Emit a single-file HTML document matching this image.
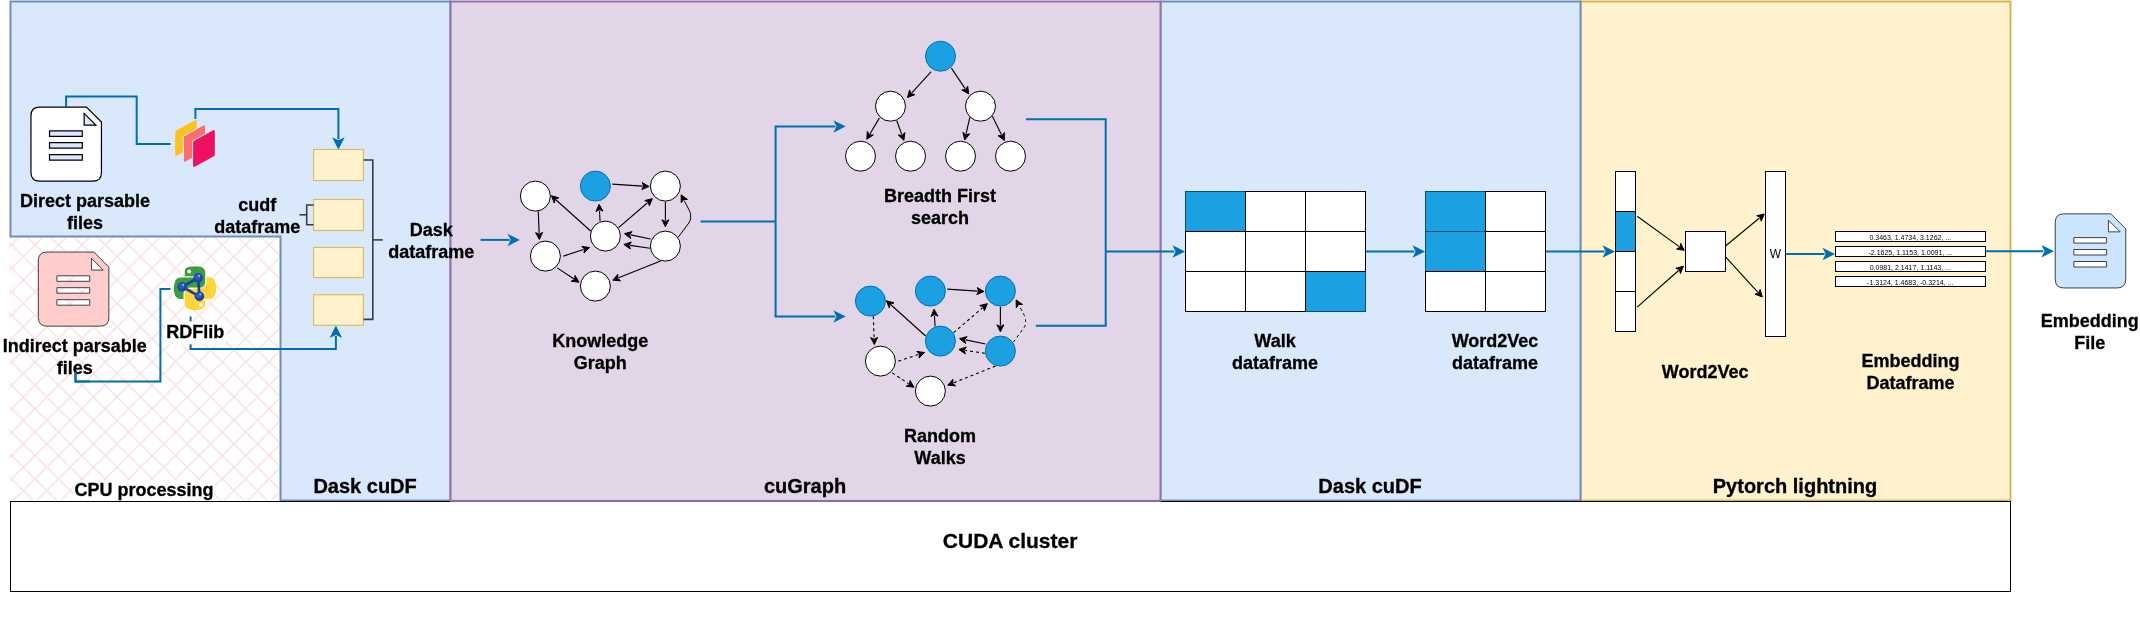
<!DOCTYPE html>
<html lang="en">
<head>
<meta charset="utf-8">
<title>GPU RDF2Vec pipeline</title>
<style>
html,body{margin:0;padding:0;background:#fff;}
body{width:2140px;height:630px;overflow:hidden;}
svg{display:block;font-family:"Liberation Sans",sans-serif;fill:#000;will-change:transform;}
</style>
</head>
<body>
<svg width="2140" height="630" viewBox="0 0 2140 630">
<defs>
<pattern id="hatch" x="11.7" y="408.7" width="23.4" height="23.4" patternUnits="userSpaceOnUse">
<path d="M-1,-1 L24.4,24.4 M-1,24.4 L24.4,-1" stroke="#fbdfe1" stroke-width="1.5" fill="none"/>
</pattern>
</defs>
<rect x="1580.5" y="1.5" width="430" height="499" fill="#fff2cc" stroke="#d6b656" stroke-width="2"/>
<rect x="1160.5" y="1.5" width="420" height="499" fill="#dae8fc" stroke="#6c8ebf" stroke-width="2"/>
<rect x="9.3" y="236" width="270" height="264.5" fill="url(#hatch)"/>
<path d="M10.5,1.5 H450.5 V500.5 H280.5 V236.5 H10.5 Z" fill="#dae8fc" stroke="#6c8ebf" stroke-width="2"/>
<rect x="73.5" y="480" width="141" height="20.8" fill="#fff"/>
<rect x="10.5" y="501.5" width="2000" height="90" fill="#fff" stroke="#000" stroke-width="1"/>
<rect x="450.5" y="1.5" width="710" height="499.4" fill="#e1d5e7" stroke="#9673a6" stroke-width="2"/>
<path d="M66.1,106.4 L66.1,96.4 L136.7,96.4 L136.7,143.9 L170.6,143.9" fill="none" stroke="#006EAF" stroke-width="2" stroke-miterlimit="10"/>
<polygon points="338.4,147.46 334.4,139.46 338.4,141.46 342.4,139.46" fill="#006EAF" stroke="#006EAF" stroke-width="2" stroke-miterlimit="10"/>
<path d="M195.4,119 L195.4,109.1 L338.4,109.1 L338.4,139.23" fill="none" stroke="#006EAF" stroke-width="2" stroke-miterlimit="10"/>
<path d="M75.5,371 L75.5,381.5 L160.4,381.5 L160.4,289 L170.5,289" fill="none" stroke="#006EAF" stroke-width="2" stroke-miterlimit="10"/>
<polygon points="335.9,327.74 339.9,335.74 335.9,333.74 331.9,335.74" fill="#006EAF" stroke="#006EAF" stroke-width="2" stroke-miterlimit="10"/>
<path d="M190.6,316.5 L190.6,349.1 L335.9,349.1 L335.9,335.97" fill="none" stroke="#006EAF" stroke-width="2" stroke-miterlimit="10"/>
<rect x="165.6" y="321.4" width="59.4" height="22.9" fill="#fff"/>
<path transform="translate(30.95,107.05)" d="M8.6,0 H55.5 L70.5,15 V65.5 Q70.5,74.1 61.9,74.1 H8.6 Q0,74.1 0,65.5 V8.6 Q0,0 8.6,0 Z M53.2,6.3 V18 H64.9 Z M18.57,23.75 H51.35 V29.25 H18.57 Z M18.57,35.65 H51.35 V41.15 H18.57 Z M18.57,47.65 H51.35 V53.15 H18.57 Z " fill="#fff" fill-rule="evenodd" stroke="#000" stroke-width="1.2" stroke-miterlimit="10"/>
<path transform="translate(38.35,252.05)" d="M8.6,0 H55.5 L70.5,15 V65.5 Q70.5,74.1 61.9,74.1 H8.6 Q0,74.1 0,65.5 V8.6 Q0,0 8.6,0 Z M53.2,6.3 V18 H64.9 Z M18.57,23.75 H51.35 V29.25 H18.57 Z M18.57,35.65 H51.35 V41.15 H18.57 Z M18.57,47.65 H51.35 V53.15 H18.57 Z " fill="#ffcccc" fill-rule="evenodd" stroke="#36393d" stroke-width="0.95" stroke-miterlimit="10"/>
<path transform="translate(2055.25,213.85)" d="M8.6,0 H55.5 L70.5,15 V65.5 Q70.5,74.1 61.9,74.1 H8.6 Q0,74.1 0,65.5 V8.6 Q0,0 8.6,0 Z M53.2,6.3 V18 H64.9 Z M18.57,23.75 H51.35 V29.25 H18.57 Z M18.57,35.65 H51.35 V41.15 H18.57 Z M18.57,47.65 H51.35 V53.15 H18.57 Z " fill="#cce5ff" fill-rule="evenodd" stroke="#36393d" stroke-width="0.95" stroke-miterlimit="10"/>
<g>
<path d="M176.3,131.7 L195.6,121.1 V144.2 L176.3,154.8 Z" fill="#ffc11e" stroke="#ffc11e" stroke-width="2.2" stroke-linejoin="round"/>
<path d="M185,137.25 L203.9,126.45 V149.75 L185,160.55 Z" fill="none" stroke="#dae8fc" stroke-width="4.2" stroke-linejoin="round"/>
<path d="M185,137.25 L203.9,126.45 V149.75 L185,160.55 Z" fill="#fc6e6b" stroke="#fc6e6b" stroke-width="2.2" stroke-linejoin="round"/>
<path d="M194.2,142 L213.7,131.2 V155 L194.2,165.8 Z" fill="none" stroke="#dae8fc" stroke-width="4.2" stroke-linejoin="round"/>
<path d="M194.2,142 L213.7,131.2 V155 L194.2,165.8 Z" fill="#ef1161" stroke="#ef1161" stroke-width="2.2" stroke-linejoin="round"/>
</g>
<g transform="translate(173.8,266.4) scale(0.382,0.391)">
<path d="M28.7,25.25 V15 C28.7,7.3 30.8,3.1 42.1,1.1 C50,-0.3 60,-0.3 68.9,1.1 C76.2,2.3 82.3,7.8 82.3,15 V40.6 C82.3,48 76.3,54.2 68.9,54.2 H42.1 C33,54.2 25.4,62 25.4,70.9 V83.1 H16.1 C8.3,83.1 3.8,77.4 1.9,69.5 C-0.7,58.8 -0.6,52.5 1.9,42.3 C4,33.4 10.8,28.7 18.6,28.7 H55.5 V25.25 Z" fill="#3f9b3f"/>
<path d="M85.6,28.7 V40.6 C85.6,49.8 77.8,57.6 68.9,57.6 H42.1 C34.8,57.6 28.7,63.9 28.7,71.2 V96.7 C28.7,104 35,108.3 42.1,110.4 C50.6,112.9 58.7,113.3 68.9,110.4 C75.6,108.4 82.3,104.5 82.3,96.7 V86.5 H55.5 V83.1 H95.7 C103.5,83.1 106.4,77.7 109.1,69.5 C111.9,61.1 111.8,53 109.1,42.3 C107.2,34.5 103.5,28.7 95.7,28.7 Z" fill="#ffd43b"/>
<circle cx="40.4" cy="13.3" r="5.1" fill="#fff"/>
<circle cx="70.6" cy="98.4" r="5.1" fill="#fff"/>
</g>
<g stroke="#1c3f94" stroke-width="2.7" fill="none" stroke-linecap="round"><path d="M182.2,286.8 L198.2,277.8 L199.4,296.4 Z"/></g>
<circle cx="182.2" cy="286.8" r="4.8" fill="#1d46a0"/>
<circle cx="181.6" cy="285.9" r="2.6" fill="#2f5cc0"/>
<circle cx="183.2" cy="284.8" r="1.1" fill="#9db6ee"/>
<circle cx="198.2" cy="277.8" r="4.8" fill="#1d46a0"/>
<circle cx="197.6" cy="276.9" r="2.6" fill="#2f5cc0"/>
<circle cx="199.2" cy="275.8" r="1.1" fill="#9db6ee"/>
<circle cx="199.4" cy="296.4" r="4.8" fill="#1d46a0"/>
<circle cx="198.8" cy="295.5" r="2.6" fill="#2f5cc0"/>
<circle cx="200.4" cy="294.4" r="1.1" fill="#9db6ee"/>
<rect x="313.6" y="149.5" width="49.8" height="31" fill="#fff2cc" stroke="#d9bc61" stroke-width="1.15"/>
<rect x="313.6" y="199.5" width="49.8" height="31" fill="#fff2cc" stroke="#d9bc61" stroke-width="1.15"/>
<rect x="313.6" y="247.5" width="49.8" height="30" fill="#fff2cc" stroke="#d9bc61" stroke-width="1.15"/>
<rect x="313.6" y="294.75" width="49.8" height="30.5" fill="#fff2cc" stroke="#d9bc61" stroke-width="1.15"/>
<path d="M363.5,160 L372.8,160 L372.8,319.4 L363.5,319.4" fill="none" stroke="#3a3d42" stroke-width="1.6" stroke-miterlimit="10"/>
<path d="M372.8,239.9 L382.8,239.9" fill="none" stroke="#3a3d42" stroke-width="1.6" stroke-miterlimit="10"/>
<path d="M313.5,205 L306.7,205 L306.7,224.7 L313.5,224.7" fill="none" stroke="#3a3d42" stroke-width="1.6" stroke-miterlimit="10"/>
<path d="M299.5,214.8 L306.7,214.8" fill="none" stroke="#3a3d42" stroke-width="1.6" stroke-miterlimit="10"/>
<polygon points="517.76,239.9 509.76,243.9 511.76,239.9 509.76,235.9" fill="#006EAF" stroke="#006EAF" stroke-width="2" stroke-miterlimit="10"/>
<path d="M480.6,239.9 L509.53,239.9" fill="none" stroke="#006EAF" stroke-width="2" stroke-miterlimit="10"/>
<polygon points="539.36,239.48 535.6,232.62 539.16,234.24 542.59,232.36" fill="#000" stroke="#000" stroke-width="1" stroke-miterlimit="10"/>
<path d="M538.3,211.2 L539.12,233.12" fill="none" stroke="#000" stroke-width="1.12" stroke-miterlimit="10"/>
<polygon points="551.43,195.75 558.98,197.83 555.33,199.26 554.29,203.03" fill="#000" stroke="#000" stroke-width="1" stroke-miterlimit="10"/>
<path d="M590.6,231 L556.16,200.01" fill="none" stroke="#000" stroke-width="1.12" stroke-miterlimit="10"/>
<polygon points="599.07,204.32 602.99,211.09 599.39,209.56 596,211.52" fill="#000" stroke="#000" stroke-width="1" stroke-miterlimit="10"/>
<path d="M600.1,221.2 L599.46,210.67" fill="none" stroke="#000" stroke-width="1.12" stroke-miterlimit="10"/>
<polygon points="589.54,247.55 583.97,253.05 584.55,249.18 581.8,246.4" fill="#000" stroke="#000" stroke-width="1" stroke-miterlimit="10"/>
<path d="M563.4,256.1 L583.49,249.53" fill="none" stroke="#000" stroke-width="1.12" stroke-miterlimit="10"/>
<polygon points="578.97,282.19 571.19,281.27 574.58,279.31 575.03,275.42" fill="#000" stroke="#000" stroke-width="1" stroke-miterlimit="10"/>
<path d="M557.2,267.9 L573.64,278.69" fill="none" stroke="#000" stroke-width="1.12" stroke-miterlimit="10"/>
<polygon points="612.74,280.18 617.93,274.33 617.61,278.23 620.54,280.83" fill="#000" stroke="#000" stroke-width="1" stroke-miterlimit="10"/>
<path d="M660.6,261 L618.65,277.81" fill="none" stroke="#000" stroke-width="1.12" stroke-miterlimit="10"/>
<polygon points="624.5,233.63 632.06,231.61 629.64,234.68 630.65,238.47" fill="#000" stroke="#000" stroke-width="1" stroke-miterlimit="10"/>
<path d="M650.6,239 L630.73,234.91" fill="none" stroke="#000" stroke-width="1.12" stroke-miterlimit="10"/>
<polygon points="623.91,244.46 631.34,242.02 629.1,245.23 630.32,248.95" fill="#000" stroke="#000" stroke-width="1" stroke-miterlimit="10"/>
<path d="M649.9,248.3 L630.21,245.39" fill="none" stroke="#000" stroke-width="1.12" stroke-miterlimit="10"/>
<polygon points="652.35,198.63 649.33,205.85 648.37,202.06 644.76,200.55" fill="#000" stroke="#000" stroke-width="1" stroke-miterlimit="10"/>
<path d="M618.6,227.7 L647.53,202.79" fill="none" stroke="#000" stroke-width="1.12" stroke-miterlimit="10"/>
<polygon points="648.98,186.53 641.77,189.56 643.75,186.18 642.23,182.57" fill="#000" stroke="#000" stroke-width="1" stroke-miterlimit="10"/>
<path d="M612.3,184.1 L642.63,186.11" fill="none" stroke="#000" stroke-width="1.12" stroke-miterlimit="10"/>
<polygon points="665.4,226.78 661.9,219.78 665.4,221.53 668.9,219.78" fill="#000" stroke="#000" stroke-width="1" stroke-miterlimit="10"/>
<path d="M665.4,201.7 L665.4,220.41" fill="none" stroke="#000" stroke-width="1.12" stroke-miterlimit="10"/>
<polygon points="681.12,194.89 687.49,199.44 683.58,199.53 681.3,202.71" fill="#000" stroke="#000" stroke-width="1" stroke-miterlimit="10"/>
<path d="M678.3,237.2 L688.8,223 Q690.6,220.6 690.6,217.6 L690.6,214.8 Q690.6,212.8 689.2,210.15 L684.1,200.52" fill="none" stroke="#000" stroke-width="1"/>
<circle cx="535.4" cy="196.1" r="15" fill="#fff" stroke="#000" stroke-width="1"/>
<circle cx="595.4" cy="186.1" r="15" fill="#1ba1e2" stroke="#006EAF" stroke-width="1"/>
<circle cx="665.4" cy="186.1" r="15" fill="#fff" stroke="#000" stroke-width="1"/>
<circle cx="545.4" cy="256.1" r="15" fill="#fff" stroke="#000" stroke-width="1"/>
<circle cx="605.4" cy="236.1" r="15" fill="#fff" stroke="#000" stroke-width="1"/>
<circle cx="665.4" cy="246.1" r="15" fill="#fff" stroke="#000" stroke-width="1"/>
<circle cx="595.4" cy="286.1" r="15" fill="#fff" stroke="#000" stroke-width="1"/>
<polygon points="874.36,344.48 870.6,337.62 874.16,339.24 877.59,337.36" fill="#000" stroke="#000" stroke-width="1" stroke-miterlimit="10"/>
<path d="M873.3,316.2 L874.12,338.12" fill="none" stroke="#000" stroke-width="1.12" stroke-miterlimit="10" stroke-dasharray="3 3"/>
<polygon points="886.43,300.75 893.98,302.83 890.33,304.26 889.29,308.03" fill="#000" stroke="#000" stroke-width="1" stroke-miterlimit="10"/>
<path d="M925.6,336 L891.16,305.01" fill="none" stroke="#000" stroke-width="1.12" stroke-miterlimit="10"/>
<polygon points="934.07,309.32 937.99,316.09 934.39,314.56 931,316.52" fill="#000" stroke="#000" stroke-width="1" stroke-miterlimit="10"/>
<path d="M935.1,326.2 L934.46,315.67" fill="none" stroke="#000" stroke-width="1.12" stroke-miterlimit="10"/>
<polygon points="924.54,352.55 918.97,358.05 919.55,354.18 916.8,351.4" fill="#000" stroke="#000" stroke-width="1" stroke-miterlimit="10"/>
<path d="M898.4,361.1 L918.49,354.53" fill="none" stroke="#000" stroke-width="1.12" stroke-miterlimit="10" stroke-dasharray="3 3"/>
<polygon points="913.97,387.19 906.19,386.27 909.58,384.31 910.03,380.42" fill="#000" stroke="#000" stroke-width="1" stroke-miterlimit="10"/>
<path d="M892.2,372.9 L908.64,383.69" fill="none" stroke="#000" stroke-width="1.12" stroke-miterlimit="10" stroke-dasharray="3 3"/>
<polygon points="947.74,385.18 952.93,379.33 952.61,383.23 955.54,385.83" fill="#000" stroke="#000" stroke-width="1" stroke-miterlimit="10"/>
<path d="M995.6,366 L953.65,382.81" fill="none" stroke="#000" stroke-width="1.12" stroke-miterlimit="10" stroke-dasharray="3 3"/>
<polygon points="959.5,338.63 967.06,336.61 964.64,339.68 965.65,343.47" fill="#000" stroke="#000" stroke-width="1" stroke-miterlimit="10"/>
<path d="M985.6,344 L965.73,339.91" fill="none" stroke="#000" stroke-width="1.12" stroke-miterlimit="10"/>
<polygon points="958.91,349.46 966.34,347.02 964.1,350.23 965.32,353.95" fill="#000" stroke="#000" stroke-width="1" stroke-miterlimit="10"/>
<path d="M984.9,353.3 L965.21,350.39" fill="none" stroke="#000" stroke-width="1.12" stroke-miterlimit="10" stroke-dasharray="3 3"/>
<polygon points="987.35,303.63 984.33,310.85 983.37,307.06 979.76,305.55" fill="#000" stroke="#000" stroke-width="1" stroke-miterlimit="10"/>
<path d="M953.6,332.7 L982.53,307.79" fill="none" stroke="#000" stroke-width="1.12" stroke-miterlimit="10" stroke-dasharray="3 3"/>
<polygon points="983.98,291.53 976.77,294.56 978.75,291.18 977.23,287.57" fill="#000" stroke="#000" stroke-width="1" stroke-miterlimit="10"/>
<path d="M947.3,289.1 L977.63,291.11" fill="none" stroke="#000" stroke-width="1.12" stroke-miterlimit="10"/>
<polygon points="1000.4,331.78 996.9,324.78 1000.4,326.53 1003.9,324.78" fill="#000" stroke="#000" stroke-width="1" stroke-miterlimit="10"/>
<path d="M1000.4,306.7 L1000.4,325.41" fill="none" stroke="#000" stroke-width="1.12" stroke-miterlimit="10"/>
<polygon points="1016.12,299.89 1022.49,304.44 1018.58,304.53 1016.3,307.71" fill="#000" stroke="#000" stroke-width="1" stroke-miterlimit="10"/>
<path d="M1013.3,342.2 L1023.8,328 Q1025.6,325.6 1025.6,322.6 L1025.6,319.8 Q1025.6,317.8 1024.2,315.15 L1019.1,305.52" fill="none" stroke="#000" stroke-width="1" stroke-dasharray="3 3"/>
<circle cx="870.4" cy="301.1" r="15" fill="#1ba1e2" stroke="#006EAF" stroke-width="1"/>
<circle cx="930.4" cy="291.1" r="15" fill="#1ba1e2" stroke="#006EAF" stroke-width="1"/>
<circle cx="1000.4" cy="291.1" r="15" fill="#1ba1e2" stroke="#006EAF" stroke-width="1"/>
<circle cx="880.4" cy="361.1" r="15" fill="#fff" stroke="#000" stroke-width="1"/>
<circle cx="940.4" cy="341.1" r="15" fill="#1ba1e2" stroke="#006EAF" stroke-width="1"/>
<circle cx="1000.4" cy="351.1" r="15" fill="#1ba1e2" stroke="#006EAF" stroke-width="1"/>
<circle cx="930.4" cy="391.1" r="15" fill="#fff" stroke="#000" stroke-width="1"/>
<polygon points="907.46,97.48 909.63,89.96 911.01,93.62 914.77,94.7" fill="#000" stroke="#000" stroke-width="1" stroke-miterlimit="10"/>
<path d="M931.2,71.7 L911.77,92.79" fill="none" stroke="#000" stroke-width="1.12" stroke-miterlimit="10"/>
<polygon points="968.68,93.87 961.87,90.01 965.75,89.51 967.69,86.11" fill="#000" stroke="#000" stroke-width="1" stroke-miterlimit="10"/>
<path d="M951.4,68.1 L965.13,88.58" fill="none" stroke="#000" stroke-width="1.12" stroke-miterlimit="10"/>
<polygon points="866.77,139.24 867.33,131.43 869.45,134.72 873.35,135" fill="#000" stroke="#000" stroke-width="1" stroke-miterlimit="10"/>
<path d="M879.3,118.1 L870.02,133.76" fill="none" stroke="#000" stroke-width="1.12" stroke-miterlimit="10"/>
<polygon points="903.92,140.35 898.24,134.97 902.12,135.42 904.82,132.57" fill="#000" stroke="#000" stroke-width="1" stroke-miterlimit="10"/>
<path d="M896.7,120.5 L901.74,134.36" fill="none" stroke="#000" stroke-width="1.12" stroke-miterlimit="10"/>
<polygon points="964.74,139.91 962.86,132.31 965.9,134.79 969.69,133.85" fill="#000" stroke="#000" stroke-width="1" stroke-miterlimit="10"/>
<path d="M969.8,117.4 L966.14,133.7" fill="none" stroke="#000" stroke-width="1.12" stroke-miterlimit="10"/>
<polygon points="1004.31,140.4 998.08,135.66 1001.99,135.69 1004.36,132.57" fill="#000" stroke="#000" stroke-width="1" stroke-miterlimit="10"/>
<path d="M992.4,116.2 L1001.49,134.68" fill="none" stroke="#000" stroke-width="1.12" stroke-miterlimit="10"/>
<circle cx="940.5" cy="56.2" r="15" fill="#1ba1e2" stroke="#006EAF" stroke-width="1"/>
<circle cx="890.5" cy="106.2" r="15" fill="#fff" stroke="#000" stroke-width="1"/>
<circle cx="980.5" cy="106.2" r="15" fill="#fff" stroke="#000" stroke-width="1"/>
<circle cx="860.5" cy="156.2" r="15" fill="#fff" stroke="#000" stroke-width="1"/>
<circle cx="910.5" cy="156.2" r="15" fill="#fff" stroke="#000" stroke-width="1"/>
<circle cx="960.5" cy="156.2" r="15" fill="#fff" stroke="#000" stroke-width="1"/>
<circle cx="1010.5" cy="156.2" r="15" fill="#fff" stroke="#000" stroke-width="1"/>
<path d="M700.6,221.4 L775.6,221.4" fill="none" stroke="#006EAF" stroke-width="2" stroke-miterlimit="10"/>
<polygon points="843.56,126.4 835.56,130.4 837.56,126.4 835.56,122.4" fill="#006EAF" stroke="#006EAF" stroke-width="2" stroke-miterlimit="10"/>
<path d="M775.6,221.4 L775.6,126.4 L835.33,126.4" fill="none" stroke="#006EAF" stroke-width="2" stroke-miterlimit="10"/>
<polygon points="843.56,316.4 835.56,320.4 837.56,316.4 835.56,312.4" fill="#006EAF" stroke="#006EAF" stroke-width="2" stroke-miterlimit="10"/>
<path d="M775.6,221.4 L775.6,316.4 L835.33,316.4" fill="none" stroke="#006EAF" stroke-width="2" stroke-miterlimit="10"/>
<path d="M1026,119.2 L1105.7,119.2 L1105.7,251.5" fill="none" stroke="#006EAF" stroke-width="2" stroke-miterlimit="10"/>
<path d="M1035.8,325.8 L1105.7,325.8 L1105.7,251.5" fill="none" stroke="#006EAF" stroke-width="2" stroke-miterlimit="10"/>
<polygon points="1182.76,251.5 1174.76,255.5 1176.76,251.5 1174.76,247.5" fill="#006EAF" stroke="#006EAF" stroke-width="2" stroke-miterlimit="10"/>
<path d="M1105.7,251.5 L1174.53,251.5" fill="none" stroke="#006EAF" stroke-width="2" stroke-miterlimit="10"/>
<polygon points="1422.76,251.5 1414.76,255.5 1416.76,251.5 1414.76,247.5" fill="#006EAF" stroke="#006EAF" stroke-width="2" stroke-miterlimit="10"/>
<path d="M1366,251.5 L1414.53,251.5" fill="none" stroke="#006EAF" stroke-width="2" stroke-miterlimit="10"/>
<polygon points="1612.76,251.5 1604.76,255.5 1606.76,251.5 1604.76,247.5" fill="#006EAF" stroke="#006EAF" stroke-width="2" stroke-miterlimit="10"/>
<path d="M1546,251.5 L1604.53,251.5" fill="none" stroke="#006EAF" stroke-width="2" stroke-miterlimit="10"/>
<rect x="1185.5" y="191.5" width="60" height="40" fill="#1ba1e2" stroke="#04507a" stroke-width="1"/>
<rect x="1305.5" y="271.5" width="60" height="40" fill="#1ba1e2" stroke="#04507a" stroke-width="1"/>
<rect x="1245.5" y="191.5" width="60" height="40" fill="#fff" stroke="#000" stroke-width="1"/>
<rect x="1305.5" y="191.5" width="60" height="40" fill="#fff" stroke="#000" stroke-width="1"/>
<rect x="1185.5" y="231.5" width="60" height="40" fill="#fff" stroke="#000" stroke-width="1"/>
<rect x="1245.5" y="231.5" width="60" height="40" fill="#fff" stroke="#000" stroke-width="1"/>
<rect x="1305.5" y="231.5" width="60" height="40" fill="#fff" stroke="#000" stroke-width="1"/>
<rect x="1185.5" y="271.5" width="60" height="40" fill="#fff" stroke="#000" stroke-width="1"/>
<rect x="1245.5" y="271.5" width="60" height="40" fill="#fff" stroke="#000" stroke-width="1"/>
<rect x="1425.5" y="191.5" width="60" height="40" fill="#1ba1e2" stroke="#04507a" stroke-width="1"/>
<rect x="1425.5" y="231.5" width="60" height="40" fill="#1ba1e2" stroke="#04507a" stroke-width="1"/>
<rect x="1485.5" y="191.5" width="60" height="40" fill="#fff" stroke="#000" stroke-width="1"/>
<rect x="1485.5" y="231.5" width="60" height="40" fill="#fff" stroke="#000" stroke-width="1"/>
<rect x="1425.5" y="271.5" width="60" height="40" fill="#fff" stroke="#000" stroke-width="1"/>
<rect x="1485.5" y="271.5" width="60" height="40" fill="#fff" stroke="#000" stroke-width="1"/>
<rect x="1615.5" y="171.5" width="20" height="40" fill="#fff" stroke="#000" stroke-width="1"/>
<rect x="1615.5" y="211.5" width="20" height="40" fill="#1ba1e2" stroke="#000" stroke-width="1"/>
<rect x="1615.5" y="251.5" width="20" height="40" fill="#fff" stroke="#000" stroke-width="1"/>
<rect x="1615.5" y="291.5" width="20" height="40" fill="#fff" stroke="#000" stroke-width="1"/>
<rect x="1685.5" y="231.5" width="40" height="40" fill="#fff" stroke="#000" stroke-width="1"/>
<rect x="1765.5" y="171.5" width="20" height="165" fill="#fff" stroke="#000" stroke-width="1"/>
<polygon points="1684.29,250.34 1676.57,249.07 1680.04,247.26 1680.68,243.4" fill="#000" stroke="#000" stroke-width="1" stroke-miterlimit="10"/>
<path d="M1637.2,216.2 L1679.14,246.61" fill="none" stroke="#000" stroke-width="1.12" stroke-miterlimit="10"/>
<polygon points="1683.36,266.24 1680.45,273.51 1679.44,269.73 1675.8,268.27" fill="#000" stroke="#000" stroke-width="1" stroke-miterlimit="10"/>
<path d="M1637.2,307.2 L1678.6,270.47" fill="none" stroke="#000" stroke-width="1.12" stroke-miterlimit="10"/>
<polygon points="1764.34,214.01 1761.15,221.16 1760.28,217.34 1756.71,215.75" fill="#000" stroke="#000" stroke-width="1" stroke-miterlimit="10"/>
<path d="M1725.8,245.7 L1759.42,218.05" fill="none" stroke="#000" stroke-width="1.12" stroke-miterlimit="10"/>
<polygon points="1762.25,296.97 1754.94,294.17 1758.7,293.1 1760.11,289.45" fill="#000" stroke="#000" stroke-width="1" stroke-miterlimit="10"/>
<path d="M1725.8,257.1 L1757.95,292.27" fill="none" stroke="#000" stroke-width="1.12" stroke-miterlimit="10"/>
<text x="1775.3" y="258.3" font-size="12" font-weight="normal" text-anchor="middle">W</text>
<polygon points="1832.76,254 1824.76,258 1826.76,254 1824.76,250" fill="#006EAF" stroke="#006EAF" stroke-width="2" stroke-miterlimit="10"/>
<path d="M1786,254 L1824.53,254" fill="none" stroke="#006EAF" stroke-width="2" stroke-miterlimit="10"/>
<rect x="1835.5" y="231.5" width="150" height="10" fill="#fff" stroke="#000" stroke-width="1"/>
<text x="1910.3" y="239.8" font-size="7" font-weight="normal" text-anchor="middle">0.3463, 1.4734, 3.1262, ...</text>
<rect x="1835.5" y="246.5" width="150" height="10" fill="#fff" stroke="#000" stroke-width="1"/>
<text x="1910.3" y="254.8" font-size="7" font-weight="normal" text-anchor="middle">-2.1625, 1.1153, 1.0091, ...</text>
<rect x="1835.5" y="261.5" width="150" height="10" fill="#fff" stroke="#000" stroke-width="1"/>
<text x="1910.3" y="269.8" font-size="7" font-weight="normal" text-anchor="middle">0.0981, 2.1417, 1.1143, ...</text>
<rect x="1835.5" y="276.5" width="150" height="10" fill="#fff" stroke="#000" stroke-width="1"/>
<text x="1910.3" y="284.8" font-size="7" font-weight="normal" text-anchor="middle">-1.3124, 1.4683, -0.3214, ...</text>
<polygon points="2051.76,251.2 2043.76,255.2 2045.76,251.2 2043.76,247.2" fill="#006EAF" stroke="#006EAF" stroke-width="2" stroke-miterlimit="10"/>
<path d="M1986,251.2 L2043.53,251.2" fill="none" stroke="#006EAF" stroke-width="2" stroke-miterlimit="10"/>
<text x="85.1" y="207" font-size="18" font-weight="bold" text-anchor="middle" stroke="#000" stroke-width="0.3">Direct parsable</text>
<text x="85.1" y="229" font-size="18" font-weight="bold" text-anchor="middle" stroke="#000" stroke-width="0.3">files</text>
<text x="257.2" y="211" font-size="18" font-weight="bold" text-anchor="middle" stroke="#000" stroke-width="0.3">cudf</text>
<text x="257.2" y="233" font-size="18" font-weight="bold" text-anchor="middle" stroke="#000" stroke-width="0.3">dataframe</text>
<text x="431.3" y="236" font-size="18" font-weight="bold" text-anchor="middle" stroke="#000" stroke-width="0.3">Dask</text>
<text x="431.3" y="258" font-size="18" font-weight="bold" text-anchor="middle" stroke="#000" stroke-width="0.3">dataframe</text>
<text x="74.8" y="352" font-size="18" font-weight="bold" text-anchor="middle" stroke="#000" stroke-width="0.3">Indirect parsable</text>
<text x="74.8" y="374" font-size="18" font-weight="bold" text-anchor="middle" stroke="#000" stroke-width="0.3">files</text>
<text x="195.2" y="337.6" font-size="18" font-weight="bold" text-anchor="middle" stroke="#000" stroke-width="0.3">RDFlib</text>
<text x="600.3" y="347" font-size="18" font-weight="bold" text-anchor="middle" stroke="#000" stroke-width="0.3">Knowledge</text>
<text x="600.3" y="369" font-size="18" font-weight="bold" text-anchor="middle" stroke="#000" stroke-width="0.3">Graph</text>
<text x="940.1" y="202" font-size="18" font-weight="bold" text-anchor="middle" stroke="#000" stroke-width="0.3">Breadth First</text>
<text x="940.1" y="224" font-size="18" font-weight="bold" text-anchor="middle" stroke="#000" stroke-width="0.3">search</text>
<text x="940" y="441.5" font-size="18" font-weight="bold" text-anchor="middle" stroke="#000" stroke-width="0.3">Random</text>
<text x="940" y="463.5" font-size="18" font-weight="bold" text-anchor="middle" stroke="#000" stroke-width="0.3">Walks</text>
<text x="1275" y="346.8" font-size="18" font-weight="bold" text-anchor="middle" stroke="#000" stroke-width="0.3">Walk</text>
<text x="1275" y="368.8" font-size="18" font-weight="bold" text-anchor="middle" stroke="#000" stroke-width="0.3">dataframe</text>
<text x="1495" y="346.8" font-size="18" font-weight="bold" text-anchor="middle" stroke="#000" stroke-width="0.3">Word2Vec</text>
<text x="1495" y="368.8" font-size="18" font-weight="bold" text-anchor="middle" stroke="#000" stroke-width="0.3">dataframe</text>
<text x="1705.2" y="378.2" font-size="18" font-weight="bold" text-anchor="middle" stroke="#000" stroke-width="0.3">Word2Vec</text>
<text x="1910.5" y="367.2" font-size="18" font-weight="bold" text-anchor="middle" stroke="#000" stroke-width="0.3">Embedding</text>
<text x="1910.5" y="389.2" font-size="18" font-weight="bold" text-anchor="middle" stroke="#000" stroke-width="0.3">Dataframe</text>
<text x="2089.7" y="327" font-size="18" font-weight="bold" text-anchor="middle" stroke="#000" stroke-width="0.3">Embedding</text>
<text x="2089.7" y="349" font-size="18" font-weight="bold" text-anchor="middle" stroke="#000" stroke-width="0.3">File</text>
<text x="144.1" y="495.9" font-size="18" font-weight="bold" text-anchor="middle" stroke="#000" stroke-width="0.3">CPU processing</text>
<text x="365.1" y="492.9" font-size="20" font-weight="bold" text-anchor="middle" stroke="#000" stroke-width="0.3">Dask cuDF</text>
<text x="805" y="492.9" font-size="20" font-weight="bold" text-anchor="middle" stroke="#000" stroke-width="0.3">cuGraph</text>
<text x="1370" y="492.9" font-size="20" font-weight="bold" text-anchor="middle" stroke="#000" stroke-width="0.3">Dask cuDF</text>
<text x="1795" y="492.9" font-size="20" font-weight="bold" text-anchor="middle" stroke="#000" stroke-width="0.3">Pytorch lightning</text>
<text x="1010.1" y="547.7" font-size="21" font-weight="bold" text-anchor="middle" stroke="#000" stroke-width="0.3">CUDA cluster</text>
<path d="M75.5,371.6 L75.5,381.5 L90,381.5" fill="none" stroke="#006EAF" stroke-width="2" stroke-miterlimit="10"/>
</svg>
</body>
</html>
